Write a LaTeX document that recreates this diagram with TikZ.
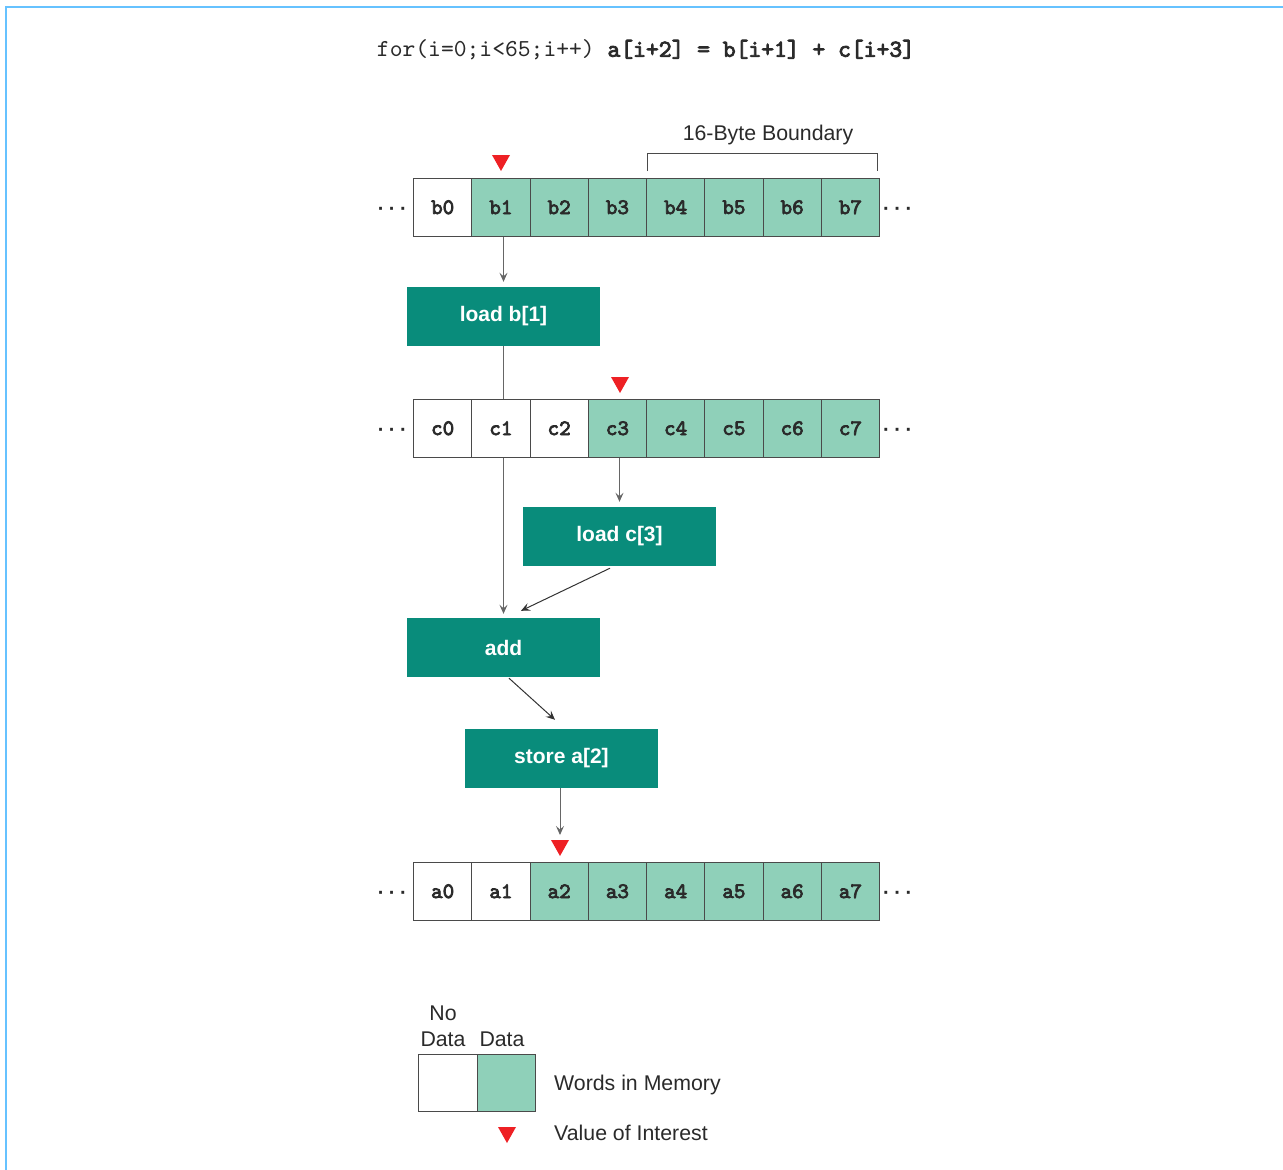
\documentclass[tikz,border=0pt]{standalone}
\usepackage{fontspec}
\setmainfont{Liberation Sans}
\setmonofont{lmmono10-regular.otf}[BoldFont=lmmono10-regular.otf,BoldFeatures={FakeBold=3.5}]
\usetikzlibrary{arrows.meta}
\definecolor{cellgreen}{HTML}{8FD0B9}
\definecolor{opteal}{HTML}{098C7B}
\definecolor{framebl}{HTML}{66C2FF}
\definecolor{redtri}{HTML}{EE2024}
\definecolor{cellborder}{HTML}{4A4A4A}
\definecolor{txtdark}{HTML}{2A2A2A}
\newcommand\mytri[2]{\fill[redtri] (#1-9,#2) -- (#1+9,#2) -- (#1,#2+16) -- cycle;}
\newcommand\memrow[3]{%
  \foreach \i in {0,...,7}{%
    \ifnum\i<#3 \def\fc{white}\else\def\fc{cellgreen}\fi
    \node[cell,fill=\fc] (#1\i) at (413+58.25*\i,#2) {#1\i};
  }%
  \node[dots,anchor=east] (#1L) at (407,#2+33) {·\hspace{4.5pt}·\hspace{4.5pt}·};
  \node[dots,anchor=west] (#1R) at (883,#2+33) {·\hspace{4.5pt}·\hspace{4.5pt}·};
}
\begin{document}
\begin{tikzpicture}[x=1pt,y=-1pt,
  cell/.style={draw=cellborder,line width=1.1pt,minimum width=58.25pt,minimum height=57.5pt,
    inner sep=0pt,anchor=north west,text=txtdark,font=\ttfamily\bfseries\fontsize{22}{22}\selectfont},
  dots/.style={inner sep=0pt,text=txtdark,font=\bfseries\fontsize{20}{20}\selectfont},
  opbox/.style={fill=opteal,text=white,minimum width=193pt,minimum height=59pt,inner sep=0pt,
    font=\bfseries\fontsize{21}{21}\selectfont},
  lbl/.style={inner sep=0pt,text=txtdark,font=\fontsize{21.3}{21.3}\selectfont},
  conn/.style={draw=black!80,line width=1pt,-{Stealth[length=9pt,width=8pt,inset=3.5pt]}},
]
\useasboundingbox (0,0) rectangle (1283,1170);
% frame
\draw[framebl,line width=2.5pt] (6,1170) -- (6,7) -- (1283,7);
% code
\node[inner sep=0pt,text=txtdark,font=\ttfamily\fontsize{24.4}{24.4}\selectfont] (code) at (646,50)
  {for(i=0;i<65;i++) \textbf{a[i+2] = b[i+1] + c[i+3]}};
% operation boxes
\node[opbox] (loadb) at (503.5,316.5) {load b[1]};
\node[opbox] (loadc) at (619.5,536.5) {load c[3]};
\node[opbox] (add)   at (503.5,647.5) {add};
\node[opbox] (store) at (561.5,758.5) {store a[2]};
% long connector (behind c row)
\draw[conn,draw=black!60,shorten >=4pt] (loadb.south) -- (add.north);
% memory rows
\memrow{b}{178}{1}
\memrow{c}{399}{3}
\memrow{a}{862}{2}
% bracket
\draw[cellborder,line width=1pt] (647,171) -- (647,153) -- (877,153) -- (877,171);
\node[lbl] (bound) at (768,135) {16-Byte Boundary};
% triangles
\mytri{501}{155}
\mytri{620}{377}
\mytri{560}{840}
\coordinate (atri) at (560,840);
% connectors
\draw[conn,draw=black!60,shorten >=5pt] (loadb.north |- b1.south) -- (loadb.north);
\draw[conn,draw=black!60,shorten >=5pt] (loadc.north |- c3.south) -- (loadc.north);
\draw[conn] ([xshift=-9.5pt,yshift=-2pt]loadc.south) -- ([xshift=17.5pt,yshift=7pt]add.north);
\draw[conn] ([xshift=5.5pt,yshift=-1pt]add.south) -- ([xshift=-6.5pt,yshift=9pt]store.north);
\draw[conn,draw=black!60,shorten >=5pt] ([xshift=-1.5pt]store.south) -- (atri);
% legend
\node[lbl] (lno) at (443,1013) {No};
\node[lbl] (ld1) at (443,1039) {Data};
\node[lbl] (ld2) at (502,1039) {Data};
\node[draw=cellborder,line width=1.1pt,fill=white,minimum width=58.5pt,minimum height=57pt,inner sep=0pt,anchor=north west] (lw) at (418,1054) {};
\node[draw=cellborder,line width=1.1pt,fill=cellgreen,minimum width=58.5pt,minimum height=57pt,inner sep=0pt,anchor=north west] (lg) at (476.5,1054) {};
\node[lbl,anchor=west] (lwm) at (554,1085) {Words in Memory};
\mytri{507}{1127}
\node[lbl,anchor=west] (lvi) at (554,1133) {Value of Interest};
\end{tikzpicture}
\end{document}
